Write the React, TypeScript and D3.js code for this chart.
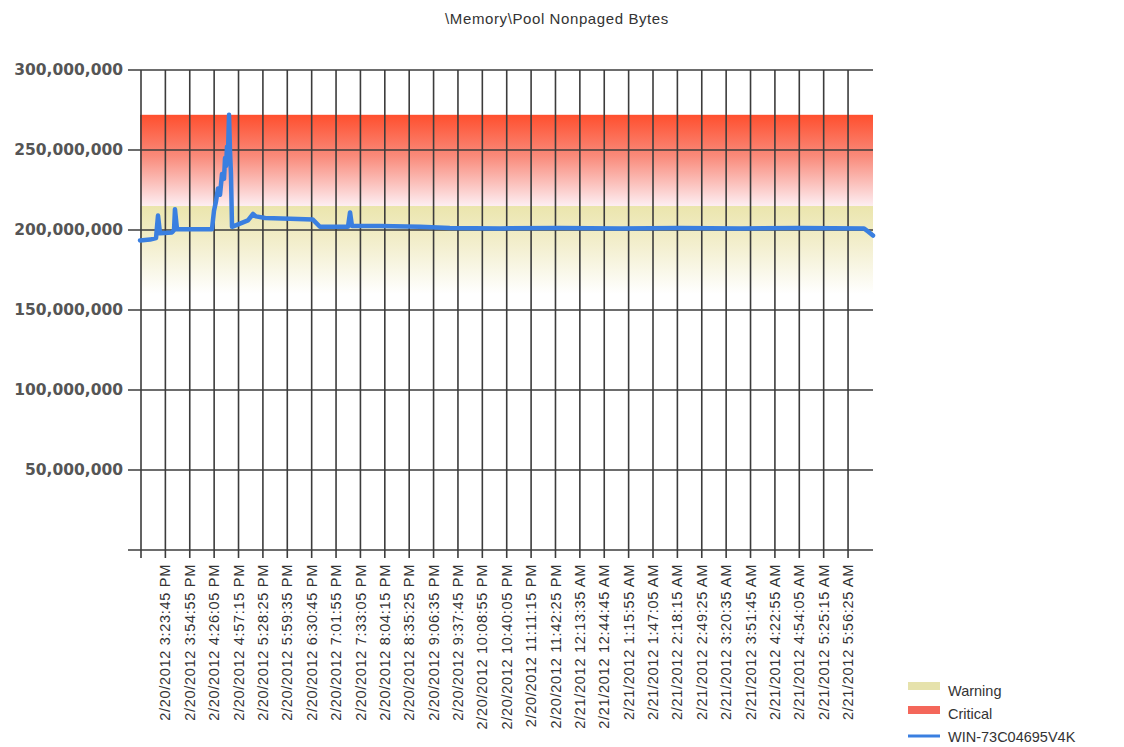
import React, { useEffect } from 'react'
import * as d3 from 'd3'

// chart text
const chartTitle = '\\Memory\\Pool Nonpaged Bytes'
const seriesName = 'WIN-73C04695V4K'
const legendNames = ['Warning', 'Critical', seriesName]

// one x tick every 31:10, the first tick has no label
const tickIntervalMinutes = 31 + 10 / 60
const xDomainMinutes = 937
const tickLabels = [
  '2/20/2012 3:23:45 PM',
  '2/20/2012 3:54:55 PM',
  '2/20/2012 4:26:05 PM',
  '2/20/2012 4:57:15 PM',
  '2/20/2012 5:28:25 PM',
  '2/20/2012 5:59:35 PM',
  '2/20/2012 6:30:45 PM',
  '2/20/2012 7:01:55 PM',
  '2/20/2012 7:33:05 PM',
  '2/20/2012 8:04:15 PM',
  '2/20/2012 8:35:25 PM',
  '2/20/2012 9:06:35 PM',
  '2/20/2012 9:37:45 PM',
  '2/20/2012 10:08:55 PM',
  '2/20/2012 10:40:05 PM',
  '2/20/2012 11:11:15 PM',
  '2/20/2012 11:42:25 PM',
  '2/21/2012 12:13:35 AM',
  '2/21/2012 12:44:45 AM',
  '2/21/2012 1:15:55 AM',
  '2/21/2012 1:47:05 AM',
  '2/21/2012 2:18:15 AM',
  '2/21/2012 2:49:25 AM',
  '2/21/2012 3:20:35 AM',
  '2/21/2012 3:51:45 AM',
  '2/21/2012 4:22:55 AM',
  '2/21/2012 4:54:05 AM',
  '2/21/2012 5:25:15 AM',
  '2/21/2012 5:56:25 AM'
]

const yTicks = [0, 50e6, 100e6, 150e6, 200e6, 250e6, 300e6]

// samples: minutes since first tick, value in millions of bytes
const sampleMinutes = [
  0, 12.8, 20.5, 23, 25.6, 41, 43.5, 44.7, 47.3, 92,
  94.6, 97.2, 99.7, 102.3, 104.8, 107.4, 108.7, 110, 111.2, 112.5,
  113.8, 115, 116.3, 117.6, 127.8, 138, 144.5, 148.3, 160, 191.8,
  221, 230, 265.9, 268.5, 271, 306.8, 358, 396, 460, 537,
  613.6, 690, 767, 843.7, 925.6, 930.7, 937
]
const sampleValues = [
  193.5, 194, 195, 209, 198, 198.5, 200, 213, 200.5, 200.5,
  212, 218, 226, 222, 235, 232, 245, 240, 252, 248,
  272, 250, 235, 202, 204, 206, 210, 208.5, 207.5, 207,
  206.5, 202, 202, 211, 202.5, 202.5, 202, 201.2, 201, 201.2,
  201, 201.3, 201, 201.3, 201, 199, 196.5
]

const warningRange = [160e6, 215e6]
const criticalRange = [215e6, 272e6]

const W = 1124
const H = 747
const plot = { left: 140, right: 873, top: 70, bottom: 550 }
const gridColor = '#3c3c3c'
const lineColor = '#3a7fe0'

export default function App() {
  useEffect(() => {
    document.body.style.margin = '0'
  }, [])

  const x = d3.scaleLinear().domain([0, xDomainMinutes]).range([plot.left, plot.right])
  const y = d3.scaleLinear().domain([0, 300e6]).range([plot.bottom, plot.top])
  const fmt = d3.format(',')

  const tickCount = tickLabels.length + 1
  const xTicks = d3.range(tickCount).map(i => i * tickIntervalMinutes)

  const data = sampleMinutes.map((m, i) => ({ m, v: sampleValues[i] * 1e6 }))
  const line = d3.line<{ m: number; v: number }>()
    .x(d => x(d.m))
    .y(d => y(d.v))

  return (
    <svg width={W} height={H} style={{ display: 'block', background: '#fff' }}>
      <defs>
        <linearGradient id="critGrad" x1="0" y1="0" x2="0" y2="1">
          <stop offset="0%" stopColor="#ff4f2e" />
          <stop offset="45%" stopColor="#f98a7a" />
          <stop offset="100%" stopColor="#fdeef2" />
        </linearGradient>
        <linearGradient id="warnGrad" x1="0" y1="0" x2="0" y2="1">
          <stop offset="0%" stopColor="#ebe5ad" />
          <stop offset="45%" stopColor="#f3efcf" />
          <stop offset="100%" stopColor="#ffffff" />
        </linearGradient>
      </defs>

      <text x={557} y={24} textAnchor="middle" fontFamily="Liberation Sans, Arial, sans-serif"
        fontSize={15} letterSpacing={0.6} fill="#333">{chartTitle}</text>

      {/* threshold bands */}
      <rect x={plot.left} width={plot.right - plot.left}
        y={y(warningRange[1])} height={y(warningRange[0]) - y(warningRange[1])} fill="url(#warnGrad)" />
      <rect x={plot.left} width={plot.right - plot.left}
        y={y(criticalRange[1])} height={y(criticalRange[0]) - y(criticalRange[1])} fill="url(#critGrad)" />

      {/* horizontal grid */}
      {yTicks.map(t => (
        <g key={t}>
          <line x1={128} x2={plot.right} y1={y(t)} y2={y(t)} stroke={gridColor} strokeWidth={1.6} />
          {t > 0 && (
            <text x={123} y={y(t)} dy="0.35em" textAnchor="end" fontFamily="DejaVu Sans, Verdana, sans-serif"
              fontWeight="bold" fontSize={15.5} fill="#555">{fmt(t)}</text>
          )}
        </g>
      ))}

      {/* vertical grid and x labels */}
      {xTicks.map((t, i) => (
        <g key={i}>
          <line x1={x(t) + 1} x2={x(t) + 1} y1={plot.top} y2={plot.bottom + 8} stroke={gridColor} strokeWidth={1.6} />
          {i > 0 && (
            <text transform={`translate(${x(t) + 1},564) rotate(-90)`} dy="0.35em" textAnchor="end"
              fontFamily="Liberation Sans, Arial, sans-serif" fontSize={14.5} letterSpacing={0.7}
              fill="#333">{tickLabels[i - 1]}</text>
          )}
        </g>
      ))}

      <path d={line(data) || ''} fill="none" stroke={lineColor} strokeWidth={4.5}
        strokeLinejoin="round" strokeLinecap="round" />

      {/* legend */}
      <rect x={908} y={682} width={32} height={8} fill="#e6e2ac" />
      <rect x={908} y={706} width={32} height={8} fill="#f4675a" />
      <line x1={908} x2={940} y1={736} y2={736} stroke={lineColor} strokeWidth={3} />
      {legendNames.map((n, i) => (
        <text key={n} x={948} y={691 + i * 23} dy="0.35em" fontFamily="Liberation Sans, Arial, sans-serif"
          fontSize={14.5} fill="#333">{n}</text>
      ))}
    </svg>
  )
}
